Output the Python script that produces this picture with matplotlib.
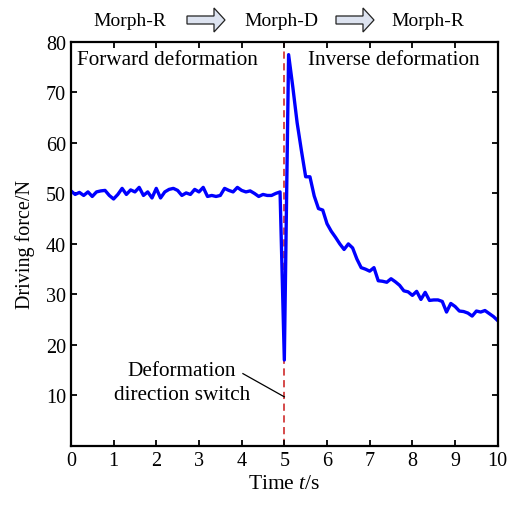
import numpy as np
import matplotlib
matplotlib.use("Agg")
import matplotlib.pyplot as plt
from matplotlib.patches import Polygon

plt.rcParams['font.family'] = ['Liberation Serif', 'DejaVu Serif']
plt.rcParams['mathtext.fontset'] = 'custom'
plt.rcParams['mathtext.rm'] = 'Liberation Serif'
plt.rcParams['mathtext.it'] = 'Liberation Serif:italic'

# driving force sampled every 0.1 s
forward = [50.5, 49.8, 50.2, 49.6, 50.3, 49.4, 50.3, 50.5, 50.6, 49.6,
           48.9, 49.8, 51.0, 49.8, 50.7, 50.3, 51.2, 49.6, 50.3, 49.1,
           51.0, 49.1, 50.3, 50.8, 51.0, 50.6,
           49.6, 50.1, 49.8, 50.8, 50.3, 51.2, 49.4, 49.6, 49.4, 49.6,
           51.0, 50.6, 50.3, 51.2, 50.6, 50.3, 50.5, 50.0, 49.4, 49.8,
           49.6, 49.6, 50.0, 50.3]
switch = [17.0, 77.5]
inverse = [71, 64, 58.5, 53.3, 53.3, 49.5, 47, 46.7, 44, 42.5,
           41.3, 40, 38.9, 40, 39.2, 37, 35.3, 35, 34.6, 35.3,
           32.7, 32.6, 32.4, 33.1, 32.5, 31.8, 30.7, 30.5, 29.8, 30.6,
           29, 30.4, 28.8, 28.9, 28.9, 28.6, 26.5, 28.2, 27.6, 26.7,
           26.6, 26.3, 25.7, 26.7, 26.5, 26.8, 26.2, 25.6, 24.8]
force = forward + switch + inverse
t = np.linspace(0, 10, len(force))
t_switch = 5.0
stages = ["Morph-R", "Morph-D", "Morph-R"]

fig = plt.figure(figsize=(5.10, 5.06), dpi=100)
ax = fig.add_axes([0.139, 0.117, 0.837, 0.798])

ax.axvline(t_switch, color='#d23c3c', ls=(0, (4, 2.5)), lw=1.3, zorder=1)
ax.plot(t, force, color='#0000ff', lw=2.4, zorder=2)

ax.set_xlim(0, 10)
ax.set_ylim(0, 80)
ax.set_xticks(range(0, 11))
ax.set_yticks(range(10, 81, 10))
ax.tick_params(direction='in', length=4, width=1.3, labelsize=14.5,
               top=True, right=True)
for s in ax.spines.values():
    s.set_linewidth(1.6)
ax.set_xlabel('Time $t$/s', fontsize=15.5, labelpad=3)
ax.set_ylabel('Driving force/N', fontsize=14.5, labelpad=8)

ax.text(0.15, 76.5, 'Forward deformation', fontsize=15.3, va='center')
ax.text(5.55, 76.5, 'Inverse deformation', fontsize=15.3, va='center')
ax.text(2.6, 12.6, 'Deformation\ndirection switch', fontsize=15.3,
        ha='center', va='center', linespacing=1.35)
ax.plot([4.03, 5.0], [14.3, 9.7], color='k', lw=0.9)

# header: stages with block arrows
H, W = 506, 510
for x, s in zip([130, 281, 428], stages):
    fig.text(x / W, 1 - 21 / H, s, fontsize=14, ha='center', va='center')


def block_arrow(x0, x1, xh):
    pts = [(x0, 17), (xh, 17), (xh, 9), (x1, 21), (xh, 33), (xh, 25), (x0, 25)]
    pts = [(px / W, 1 - py / H) for px, py in pts]
    fig.patches.append(Polygon(pts, closed=True, fc='#dde3f0', ec='#222222',
                               lw=0.9, transform=fig.transFigure))


block_arrow(187, 225, 214)
block_arrow(336, 374, 363)

fig.savefig('out.png', dpi=100)
